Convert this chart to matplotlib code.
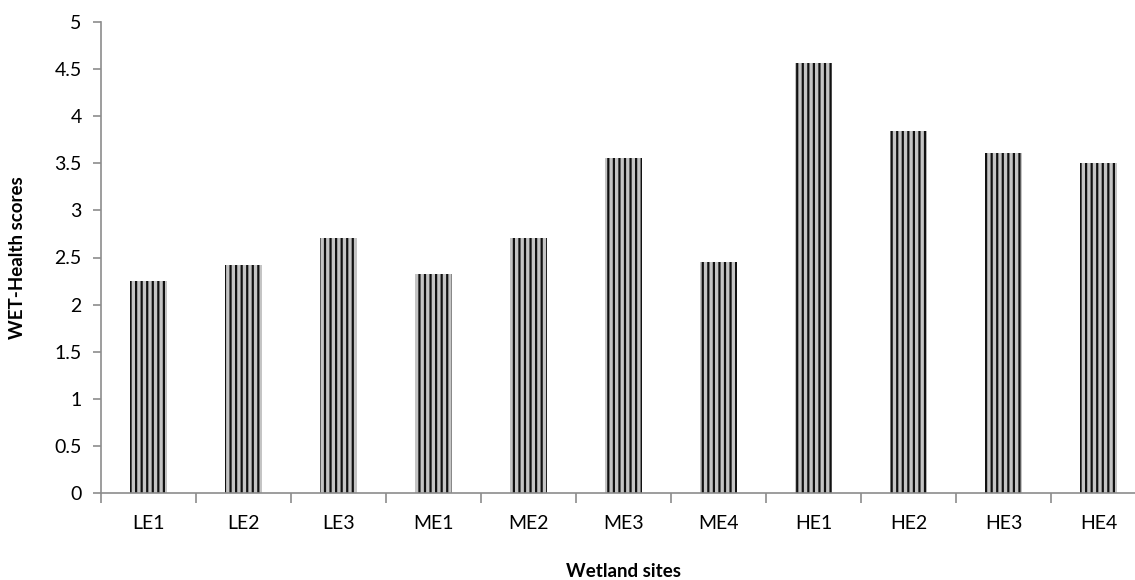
import numpy as np
import matplotlib.pyplot as plt

# Data
sites = ['LE1', 'LE2', 'LE3', 'ME1', 'ME2', 'ME3', 'ME4', 'HE1', 'HE2', 'HE3', 'HE4']
scores = [2.25, 2.42, 2.71, 2.33, 2.71, 3.56, 2.45, 4.57, 3.84, 3.61, 3.50]

plt.rcParams['font.family'] = ['Lato', 'DejaVu Sans']
plt.rcParams['hatch.linewidth'] = 1.6
plt.rcParams['hatch.color'] = '#111111'

fig = plt.figure(figsize=(11.35, 5.8), dpi=100)
ax = fig.add_axes([101 / 1135, 1 - 493 / 580, 1045 / 1135, 471 / 580])

x = np.arange(len(sites))
ax.bar(x, scores, width=0.39, color='#c4c4c4', edgecolor='#111111', linewidth=0,
       hatch='|||')

ax.set_xlim(-0.5, len(sites) - 0.5)
ax.set_ylim(0, 5)
ax.set_yticks(np.arange(0, 5.01, 0.5))
ax.set_yticklabels(['0', '0.5', '1', '1.5', '2', '2.5', '3', '3.5', '4', '4.5', '5'])
ax.set_xticks(x)
ax.set_xticklabels(sites)
ax.set_xticks(np.arange(-0.5, len(sites), 1), minor=True)

for s in ['top', 'right']:
    ax.spines[s].set_visible(False)
for s in ['left', 'bottom']:
    ax.spines[s].set_color('#8c8c8c')
    ax.spines[s].set_linewidth(1.2)

ax.tick_params(axis='x', which='major', length=0, pad=16, labelsize=14)
ax.tick_params(axis='x', which='minor', length=7, color='#8c8c8c', width=1.2)
ax.tick_params(axis='y', length=6, color='#8c8c8c', width=1.2, pad=8, labelsize=14)

ax.set_ylabel('WET-Health scores', fontsize=13.5, fontweight='bold', labelpad=20)
ax.set_xlabel('Wetland sites', fontsize=13.5, fontweight='bold', labelpad=22)

fig.savefig('out.png', dpi=100)
